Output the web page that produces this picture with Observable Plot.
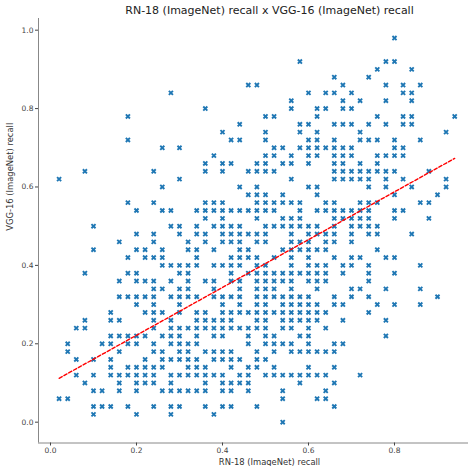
<!DOCTYPE html>
<html><head><meta charset="utf-8">
<script src="https://cdn.jsdelivr.net/npm/d3@7"></script>
<script src="https://cdn.jsdelivr.net/npm/@observablehq/plot@0.6"></script>
<style>html,body{margin:0;padding:0;background:#fff} svg{display:block}</style>
</head><body><div id="chart"></div>
<script>
// VGG-16 recall levels (y) and, for each level, the RN-18 recalls (x) of the classes at that level
const vggLevels = [0.98,0.92,0.90,0.88,0.86,0.84,0.82,0.80,0.78,0.76,0.74,0.72,0.70,0.68,0.66,0.64,0.62,0.60,0.58,0.56,0.54,0.52,0.50,0.48,0.46,0.44,0.42,0.40,0.38,0.36,0.34,0.32,0.30,0.28,0.26,0.24,0.22,0.20,0.18,0.16,0.14,0.12,0.10,0.08,0.06,0.04,0.02,0.00];
const rnAtLevel = [
 [0.80],
 [0.58,0.78,0.80],
 [0.76,0.84],
 [0.66,0.74],
 [0.46,0.48,0.68,0.78,0.82,0.86],
 [0.28,0.60,0.64,0.66,0.70,0.82,0.84],
 [0.56,0.68,0.72,0.78,0.84],
 [0.36,0.56,0.62,0.64,0.68,0.70],
 [0.18,0.50,0.52,0.62,0.76,0.82,0.84,0.94],
 [0.44,0.58,0.60,0.66,0.68,0.70,0.74,0.78,0.82,0.84],
 [0.40,0.50,0.58,0.62,0.72,0.92],
 [0.18,0.42,0.44,0.50,0.60,0.62,0.66,0.72,0.74,0.76,0.80,0.86],
 [0.26,0.30,0.52,0.54,0.58,0.60,0.62,0.64,0.66,0.68,0.70,0.80,0.82],
 [0.38,0.50,0.52,0.56,0.60,0.62,0.66,0.68,0.70,0.76,0.78,0.80,0.82],
 [0.36,0.40,0.42,0.48,0.50,0.54,0.56,0.60,0.66,0.68,0.72,0.76],
 [0.08,0.24,0.36,0.40,0.46,0.48,0.50,0.52,0.66,0.68,0.70,0.72,0.74,0.76,0.78,0.80,0.88],
 [0.02,0.30,0.56,0.66,0.68,0.70,0.72,0.74,0.78,0.82,0.92],
 [0.26,0.44,0.48,0.60,0.62,0.74,0.78,0.84,0.92],
 [0.46,0.48,0.50,0.54,0.62,0.80,0.90],
 [0.18,0.24,0.36,0.38,0.40,0.48,0.50,0.52,0.54,0.56,0.58,0.64,0.66,0.72,0.74,0.76,0.86,0.88],
 [0.20,0.26,0.28,0.34,0.36,0.38,0.40,0.42,0.44,0.46,0.48,0.50,0.52,0.58,0.62,0.64,0.66,0.68,0.70,0.72,0.74,0.80,0.82],
 [0.36,0.40,0.48,0.54,0.56,0.58,0.66,0.68,0.70,0.72,0.74,0.80,0.88],
 [0.10,0.28,0.30,0.34,0.38,0.40,0.42,0.44,0.50,0.52,0.54,0.56,0.58,0.60,0.62,0.66,0.70,0.72,0.74,0.76],
 [0.20,0.24,0.30,0.34,0.36,0.40,0.42,0.44,0.46,0.48,0.50,0.56,0.60,0.62,0.64,0.66,0.70,0.74,0.76,0.84],
 [0.16,0.24,0.32,0.36,0.40,0.42,0.44,0.48,0.50,0.56,0.58,0.60,0.64,0.66,0.70],
 [0.10,0.20,0.22,0.26,0.32,0.34,0.38,0.44,0.46,0.54,0.56,0.58,0.60,0.62,0.64,0.76],
 [0.18,0.22,0.24,0.26,0.34,0.42,0.44,0.46,0.48,0.52,0.56,0.60,0.66,0.70,0.72,0.78,0.80],
 [0.26,0.28,0.30,0.32,0.34,0.38,0.40,0.42,0.44,0.48,0.50,0.56,0.60,0.62,0.64,0.68,0.70,0.74,0.86],
 [0.08,0.18,0.20,0.30,0.32,0.42,0.46,0.48,0.50,0.52,0.54,0.56,0.58,0.60,0.62,0.64,0.68,0.74,0.80],
 [0.16,0.20,0.22,0.24,0.28,0.32,0.36,0.38,0.42,0.44,0.48,0.50,0.52,0.54,0.56,0.60,0.62,0.64,0.74],
 [0.24,0.26,0.30,0.32,0.38,0.44,0.48,0.50,0.52,0.56,0.62,0.70,0.72,0.78,0.86],
 [0.16,0.18,0.20,0.22,0.24,0.28,0.30,0.32,0.34,0.38,0.40,0.42,0.44,0.48,0.50,0.52,0.54,0.56,0.58,0.60,0.66,0.70,0.74,0.90],
 [0.20,0.24,0.30,0.40,0.44,0.48,0.50,0.54,0.56,0.58,0.60,0.62,0.66,0.68,0.76,0.80,0.86],
 [0.14,0.22,0.24,0.26,0.30,0.34,0.36,0.40,0.42,0.44,0.46,0.48,0.50,0.52,0.54,0.56,0.58,0.60,0.62,0.64,0.74],
 [0.08,0.14,0.16,0.24,0.28,0.34,0.36,0.38,0.40,0.42,0.48,0.50,0.54,0.56,0.58,0.60,0.62,0.68,0.78],
 [0.06,0.08,0.24,0.28,0.30,0.32,0.34,0.36,0.38,0.40,0.42,0.44,0.46,0.48,0.50,0.54,0.56,0.60,0.64],
 [0.14,0.16,0.18,0.20,0.22,0.26,0.28,0.30,0.34,0.38,0.40,0.46,0.50,0.52,0.58,0.60,0.78],
 [0.04,0.12,0.14,0.18,0.20,0.24,0.28,0.30,0.32,0.34,0.46,0.50,0.52,0.54,0.56,0.60,0.66,0.68],
 [0.04,0.16,0.24,0.26,0.30,0.32,0.36,0.38,0.40,0.42,0.48,0.52,0.56,0.58,0.60,0.62,0.64,0.66],
 [0.06,0.10,0.14,0.22,0.26,0.28,0.30,0.32,0.34,0.38,0.40,0.42,0.44,0.48,0.50],
 [0.14,0.18,0.20,0.22,0.24,0.26,0.32,0.34,0.36,0.42,0.46,0.48,0.52,0.60,0.66],
 [0.06,0.10,0.14,0.16,0.18,0.20,0.22,0.24,0.28,0.30,0.32,0.34,0.36,0.38,0.40,0.44,0.46,0.50,0.52,0.54,0.56,0.58,0.60,0.62,0.64,0.72],
 [0.08,0.16,0.20,0.22,0.24,0.28,0.36,0.40,0.42,0.44,0.46,0.58,0.66],
 [0.10,0.12,0.16,0.20,0.26,0.28,0.30,0.32,0.34,0.36,0.40,0.42,0.46,0.54,0.64],
 [0.02,0.04,0.54,0.62,0.64],
 [0.10,0.12,0.14,0.18,0.24,0.28,0.30,0.36,0.40,0.42,0.48,0.66],
 [0.10,0.20,0.28,0.38],
 [0.54]
];
// fitted trend line end points (RN-18 recall, VGG-16 recall)
const fitRn = [0.02, 0.94];
const fitVgg = [0.112, 0.673];
const xTicks = [0.0, 0.2, 0.4, 0.6, 0.8];
const yTicks = [0.0, 0.2, 0.4, 0.6, 0.8, 1.0];
const titleText = "RN-18 (ImageNet) recall x VGG-16 (ImageNet) recall";
const xLabel = "RN-18 (ImageNet) recall";
const yLabel = "VGG-16 (ImageNet) recall";

const points = vggLevels.flatMap((v, k) => rnAtLevel[k].map(r => ({rn: r, vgg: v})));
const fit = fitRn.map((r, k) => ({rn: r, vgg: fitVgg[k]}));

const xDomain = [-0.0279, 0.9721];
const yDomain = [-0.0531, 1.0298];

const chart = Plot.plot({
  width: 468, height: 466,
  marginLeft: 38, marginRight: 0, marginTop: 18, marginBottom: 23.5,
  style: {fontFamily: "DejaVu Sans", background: "#fff", overflow: "visible"},
  x: {domain: xDomain},
  y: {domain: yDomain},
  marks: [
    Plot.ruleX([xDomain[0]], {stroke: "#888", strokeWidth: 1}),
    Plot.ruleY([yDomain[0]], {stroke: "#888", strokeWidth: 1}),
    Plot.axisX(xTicks, {tickFormat: d3.format(".1f"), tickSize: 3, tickPadding: 2, fontSize: 7.5, color: "#444", label: null}),
    Plot.axisY(yTicks, {tickFormat: d3.format(".1f"), tickSize: 3, tickPadding: 2, fontSize: 7.5, color: "#444", label: null}),
    Plot.dot(points, {x: "rn", y: "vgg", symbol: "times", r: 2.0, stroke: "#1f77b4", strokeWidth: 1.9}),
    Plot.line(fit, {x: "rn", y: "vgg", stroke: "red", strokeWidth: 1.4, strokeDasharray: "3.5,2"}),
    Plot.text([titleText], {frameAnchor: "top", dx: 16, dy: -8, fontSize: 11, fill: "#222", lineAnchor: "middle"}),
    Plot.text([xLabel], {frameAnchor: "bottom", dx: 16, dy: 19, fontSize: 8.4, fill: "#333", lineAnchor: "middle"}),
    Plot.text([yLabel], {frameAnchor: "left", dx: -28, rotate: -90, fontSize: 8.4, fill: "#333", lineAnchor: "middle"})
  ]
});
document.getElementById("chart").append(chart);
</script>
</body></html>
